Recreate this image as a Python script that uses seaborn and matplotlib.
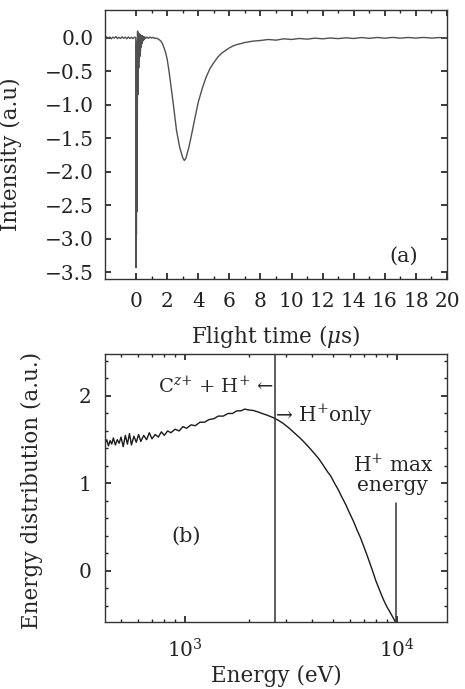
import pandas as pd
import matplotlib
matplotlib.use("Agg")
import matplotlib.pyplot as plt
import seaborn as sns
from matplotlib.ticker import FixedLocator, MultipleLocator, LogLocator, NullFormatter

# ---- (a) time of flight trace ----
t_pre = [-2.0, -1.9, -1.8, -1.7, -1.6, -1.5, -1.4, -1.3, -1.2, -1.1, -1.0, -0.9,
         -0.8, -0.7, -0.6, -0.5, -0.4, -0.3, -0.2, -0.1, -0.02]
i_pre = [0.0, 0.015, -0.01, 0.012, -0.015, 0.01, -0.005, 0.018, -0.012, 0.008, -0.01, 0.015,
         -0.008, 0.01, -0.015, 0.012, -0.01, 0.008, -0.012, 0.01, 0.0]
t_spike = [0.0, 0.01, 0.02, 0.03, 0.04, 0.05, 0.06, 0.07, 0.08, 0.095, 0.11, 0.125,
           0.14, 0.155, 0.17, 0.185, 0.2, 0.22, 0.24, 0.26, 0.28, 0.3, 0.32, 0.34,
           0.37, 0.4, 0.43, 0.46, 0.5, 0.55, 0.6]
i_spike = [-3.43, -0.1, -2.95, -0.2, -2.6, -0.15, -1.9, -0.05, -1.25, 0.1, -0.85, 0.08,
           -0.6, 0.07, -0.45, 0.06, -0.35, 0.05, -0.28, 0.05, -0.2, 0.04, -0.14, 0.03,
           -0.09, 0.03, -0.05, 0.02, -0.03, 0.015, -0.01]
t_dip = [0.7, 0.8, 0.9, 1.0, 1.1, 1.2, 1.3, 1.4, 1.5, 1.6, 1.7, 1.8, 1.9, 2.0, 2.1, 2.2,
         2.4, 2.6, 2.8, 3.0, 3.1, 3.2, 3.4, 3.6, 3.8, 4.0, 4.25, 4.5, 4.75, 5.0, 5.25,
         5.5, 5.75, 6.0, 6.25, 6.5, 6.75, 7.0, 7.25, 7.5, 7.75, 8.0]
i_dip = [0.01, -0.008, 0.012, -0.005, 0.008, -0.01, -0.005, -0.015, -0.03, -0.05, -0.09,
         -0.15, -0.22, -0.32, -0.47, -0.64, -1.0, -1.38, -1.63, -1.79, -1.83, -1.80, -1.63,
         -1.41, -1.18, -0.96, -0.76, -0.59, -0.46, -0.37, -0.29, -0.23, -0.19, -0.15,
         -0.12, -0.1, -0.085, -0.07, -0.06, -0.05, -0.045, -0.04]
t_tail = [8.5, 9.0, 9.5, 10.0, 10.5, 11.0, 11.5, 12.0, 12.5, 13.0, 13.5, 14.0, 14.5, 15.0,
          15.5, 16.0, 16.5, 17.0, 17.5, 18.0, 18.5, 19.0, 19.5, 20.0]
i_tail = [-0.025, -0.035, -0.015, -0.025, -0.01, -0.02, -0.005, -0.015, -0.003, -0.012,
          0.0, -0.01, 0.004, -0.008, 0.005, -0.006, 0.006, -0.005, 0.005, -0.004, 0.006,
          -0.004, 0.004, 0.0]

# ---- (b) energy distribution ----
energy = [420, 428, 436, 444, 452, 460, 470, 480, 490, 500, 512, 524, 536, 548, 560, 575,
          590, 605, 620, 640, 660, 680, 700, 725, 750, 775, 800, 830, 860, 900, 940, 980,
          1020, 1070, 1120, 1180, 1240, 1300, 1370, 1440, 1520, 1600, 1680, 1760, 1840,
          1920, 2000, 2100, 2200, 2320, 2450, 2600, 2750, 2900, 3100, 3300, 3500, 3700,
          3900, 4100, 4300, 4500, 4700, 4900, 5100, 5300, 5500, 5750, 6000, 6250, 6500,
          6750, 7000, 7250, 7500, 7750, 8000, 8250, 8500, 8750, 9000, 9250, 9500, 9700, 9900]
distrib = [1.46, 1.50, 1.43, 1.49, 1.45, 1.52, 1.44, 1.50, 1.46, 1.53, 1.42, 1.55, 1.45,
           1.57, 1.44, 1.54, 1.47, 1.56, 1.48, 1.55, 1.50, 1.58, 1.51, 1.56, 1.53, 1.59,
           1.55, 1.60, 1.58, 1.62, 1.60, 1.65, 1.63, 1.67, 1.66, 1.70, 1.70, 1.73, 1.74,
           1.77, 1.77, 1.80, 1.80, 1.83, 1.83, 1.85, 1.84, 1.835, 1.82, 1.80, 1.78, 1.755,
           1.725, 1.69, 1.635, 1.575, 1.52, 1.46, 1.40, 1.34, 1.28, 1.21, 1.14, 1.08, 1.00,
           0.93, 0.85, 0.76, 0.66, 0.57, 0.47, 0.38, 0.28, 0.18, 0.08, -0.02, -0.12, -0.20,
           -0.28, -0.35, -0.41, -0.46, -0.51, -0.55, -0.59]
split_energy = 2660
max_energy = 9900

tof = pd.DataFrame({"t": t_pre + t_spike + t_dip + t_tail,
                    "I": i_pre + i_spike + i_dip + i_tail})
spec = pd.DataFrame({"E": energy, "D": distrib})

sns.set_theme(style="ticks")
plt.rcParams['font.family'] = ['DejaVu Serif']
plt.rcParams['mathtext.fontset'] = 'dejavuserif'
plt.rcParams['axes.edgecolor'] = '#333333'
plt.rcParams['axes.linewidth'] = 1.0

fig = plt.figure(figsize=(4.65, 6.89), dpi=100)
ax1 = fig.add_axes([0.2258, 0.595, 0.7355, 0.390])
ax2 = fig.add_axes([0.2258, 0.0972, 0.7355, 0.389])

sns.lineplot(data=tof, x="t", y="I", ax=ax1, color="#505050", lw=1.0,
             estimator=None, sort=False)
ax1.set_xlim(-2, 20)
ax1.set_ylim(-3.6, 0.41)
ax1.xaxis.set_major_locator(FixedLocator(range(0, 21, 2)))
ax1.xaxis.set_minor_locator(FixedLocator(range(1, 20, 2)))
ax1.yaxis.set_major_locator(MultipleLocator(0.5))
ax1.set_xlabel("Flight time ($\\mu$s)", fontsize=15.5, labelpad=9)
ax1.set_ylabel("Intensity (a.u)", fontsize=15.5)
ax1.yaxis.set_label_coords(-0.243, 0.465)
ax1.text(0.872, 0.085, "(a)", transform=ax1.transAxes, ha="center", va="center", fontsize=15)

sns.lineplot(data=spec, x="E", y="D", ax=ax2, color="#1a1a1a", lw=1.0,
             estimator=None, sort=False)
ax2.set_xscale("log")
ax2.set_xlim(420, 17300)
ax2.set_ylim(-0.585, 2.48)
ax2.yaxis.set_major_locator(FixedLocator([0, 1, 2]))
ax2.yaxis.set_minor_locator(MultipleLocator(0.2))
ax2.xaxis.set_major_locator(LogLocator(base=10))
ax2.xaxis.set_minor_locator(LogLocator(base=10, subs=range(2, 10)))
ax2.xaxis.set_minor_formatter(NullFormatter())
ax2.axvline(split_energy, color="#333333", lw=1.1)
ax2.plot([max_energy, max_energy], [-0.585, 0.78], color="#333333", lw=1.1)
ax2.set_xlabel("Energy (eV)", fontsize=15.5, labelpad=2)
ax2.set_ylabel("Energy distribution (a.u.)", fontsize=15.5)
ax2.yaxis.set_label_coords(-0.181, 0.49)
ax2.text(split_energy * 0.985, 2.11, "C$^{z{+}}$ + H$^{+}$ \u2190", ha="right", va="center",
         fontsize=14)
ax2.text(split_energy * 1.0, 1.78, "\u2192 H$^{+}$only", ha="left", va="center", fontsize=14.5)
ax2.text(max_energy * 0.97, 1.1, "H$^{+}$ max\nenergy", ha="center", va="center",
         fontsize=14.5, linespacing=1.05)
ax2.text(1010, 0.4, "(b)", ha="center", va="center", fontsize=15)

for ax in (ax1, ax2):
    ax.tick_params(which="both", direction="in", top=True, right=True,
                   labelsize=14.5, colors="#222222")
    ax.tick_params(which="major", length=4)
    ax.tick_params(which="minor", length=2)
    ax.tick_params(axis="y", pad=8)
ax1.tick_params(axis="x", pad=9)
ax2.tick_params(axis="x", pad=12)
ax2.tick_params(axis="y", pad=10)

fig.savefig("out.png", dpi=100)
